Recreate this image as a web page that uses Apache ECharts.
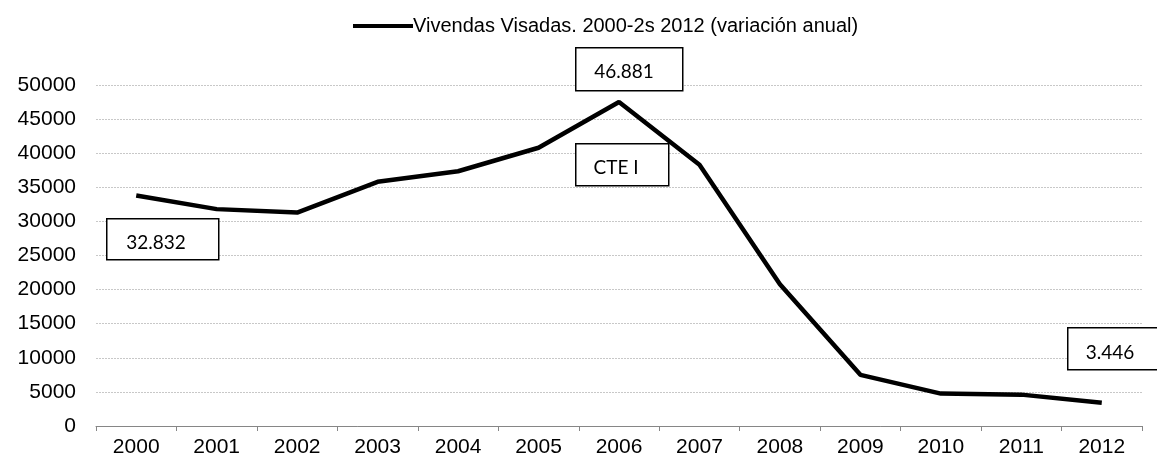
<!DOCTYPE html>
<html>
<head>
<meta charset="utf-8">
<script src="https://cdn.jsdelivr.net/npm/echarts@6/dist/echarts.min.js"></script>
<style>
html,body{margin:0;padding:0;background:#fff;}
#chart{width:1157px;height:462px;}
</style>
</head>
<body>
<div id="chart"></div>
<script>
const categories = ['2000','2001','2002','2003','2004','2005','2006','2007','2008','2009','2010','2011','2012'];
const seriesName = 'Vivendas Visadas. 2000-2s 2012 (variación anual)';
const values = [33800, 31800, 31300, 35800, 37350, 40800, 47500, 38300, 20800, 7500, 4750, 4600, 3400];
const yTicks = { min: 0, max: 50000, interval: 5000 };
const annotations = [
  { text: '32.832', box: [106, 218, 112, 41], textPos: [156, 243] },
  { text: '46.881', box: [575, 47, 107, 43], textPos: [624, 72] },
  { text: 'CTE I', box: [575, 143, 93, 42], textPos: [616, 168] },
  { text: '3.446', box: [1067, 327, 96, 42], textPos: [1110, 353] }
];

const chart = echarts.init(document.getElementById('chart'), null, { renderer: 'canvas' });

const graphics = [];
annotations.forEach(a => {
  graphics.push({
    type: 'rect', left: a.box[0], top: a.box[1], z: 100,
    shape: { width: a.box[2], height: a.box[3] },
    style: { fill: '#fff', stroke: '#000', lineWidth: 1.5 }
  });
  graphics.push({
    type: 'text', x: a.textPos[0], y: a.textPos[1], z: 101,
    style: { text: a.text, fill: '#000', font: '19px Lato', align: 'center', verticalAlign: 'middle' }
  });
});

chart.setOption({
  animation: false,
  backgroundColor: '#fff',
  legend: {
    left: 348, top: 11,
    itemWidth: 60, itemHeight: 14, itemGap: 10,
    icon: 'path://M0,6 L60,6 L60,10 L0,10 Z',
    textStyle: { fontFamily: 'Liberation Sans', fontSize: 20, color: '#000', padding: [0,0,0,-5] },
    data: [seriesName]
  },
  grid: { left: 96, right: 15, top: 85, bottom: 36, containLabel: false },
  xAxis: {
    type: 'category', data: categories, boundaryGap: true,
    axisLine: { lineStyle: { color: '#868686', width: 1 } },
    axisTick: { show: true, alignWithLabel: false, length: 5, lineStyle: { color: '#868686' } },
    axisLabel: { fontFamily: 'Liberation Sans', fontSize: 21, color: '#000', margin: 11 }
  },
  yAxis: {
    type: 'value', min: yTicks.min, max: yTicks.max, interval: yTicks.interval,
    axisLine: { show: false }, axisTick: { show: false },
    axisLabel: { fontFamily: 'Liberation Sans', fontSize: 21, color: '#000', margin: 20, formatter: v => String(v) },
    splitLine: { lineStyle: { color: '#c8c8c8', type: [2, 1], width: 1 } }
  },
  series: [{
    name: seriesName, type: 'line', data: values,
    showSymbol: false, symbol: 'none',
    lineStyle: { color: '#000', width: 4.5 },
    itemStyle: { color: '#000' }
  }],
  graphic: graphics
});
</script>
</body>
</html>
